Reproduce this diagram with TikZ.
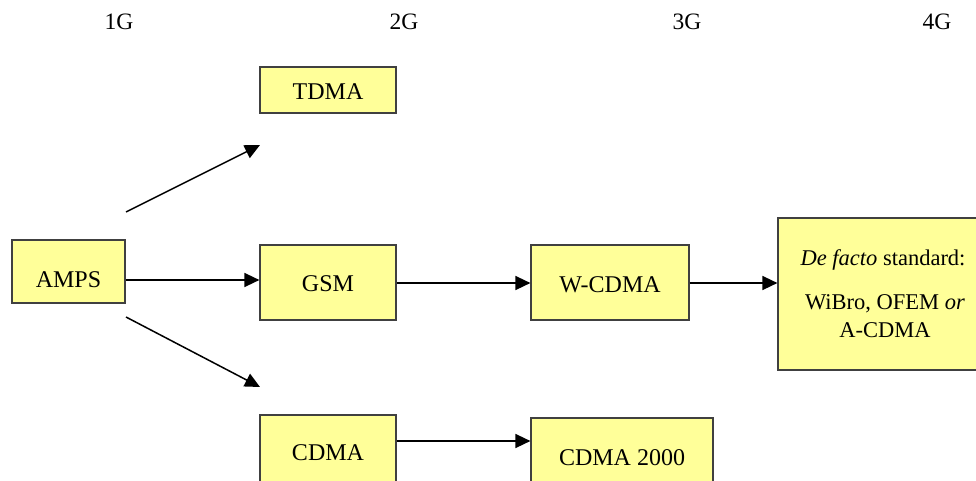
\documentclass[tikz,border=0pt]{standalone}
\usepackage{fontspec}
\setmainfont{Liberation Serif}
\usetikzlibrary{arrows.meta}
\definecolor{boxfill}{HTML}{FFFF99}
\definecolor{boxline}{HTML}{404040}
\tikzset{
  genbox/.style={draw=boxline, line width=1.2pt, fill=boxfill, inner sep=0pt},
  boxtext/.style={font=\fontsize{24}{28}\selectfont, inner sep=0pt, align=center},
  stdtext/.style={font=\fontsize{22.5}{28}\selectfont, inner sep=0pt, align=center},
  gentitle/.style={font=\fontsize{23.5}{26}\selectfont, inner sep=0pt},
  evo/.style={line width=1.5pt, -{Triangle[length=15pt, width=14pt]}}
}
\begin{document}
\begin{tikzpicture}[x=1pt, y=-1pt]
  \useasboundingbox (0,0) rectangle (976,481);
  \clip (0,0) rectangle (976,481);

  % generation headings
  \node[gentitle] (g1) at (119,22) {1G};
  \node[gentitle] (g2) at (404,22) {2G};
  \node[gentitle] (g3) at (687,22) {3G};
  \node[gentitle] (g4) at (937,22) {4G};

  % boxes
  \node[genbox, minimum width=113pt, minimum height=63pt] (amps) at (68.5,271.5) {};
  \node[genbox, minimum width=136pt, minimum height=46pt] (tdma) at (328,90) {};
  \node[genbox, minimum width=136pt, minimum height=75pt] (gsm) at (328,282.5) {};
  \node[genbox, minimum width=136pt, minimum height=80pt] (cdma) at (328,455) {};
  \node[genbox, minimum width=158pt, minimum height=75pt] (wcdma) at (610,282.5) {};
  \node[genbox, minimum width=182pt, minimum height=80pt] (cdmak) at (622,458) {};
  \node[genbox, minimum width=210pt, minimum height=152pt] (std) at (883,294) {};

  % box texts
  \node[boxtext] (tamps) at (68.5,280) {AMPS};
  \node[boxtext] (ttdma) at (328,92) {TDMA};
  \node[boxtext] (tgsm) at (328,284) {GSM};
  \node[boxtext] (tcdma) at (328,453) {CDMA};
  \node[boxtext] (twcdma) at (610,285) {W-CDMA};
  \node[boxtext] (tcdmak) at (622,458) {CDMA 2000};
  \node[stdtext] (tstd1) at (883,260) {\textit{De facto} standard:};
  \node[stdtext] (tstd2) at (885,316) {WiBro, OFEM \textit{or}\\A-CDMA};

  % free ends of the diagonal arrows
  \coordinate (upS) at (126,212);
  \coordinate (upE) at (260,145);
  \coordinate (dnS) at (126,317);
  \coordinate (dnE) at (260,387);

  % evolution arrows
  \draw[evo] (amps.east |- 0,280) -- (gsm.west |- 0,280);
  \draw[evo] (upS) -- (upE);
  \draw[evo] (dnS) -- (dnE);
  \draw[evo] (gsm.east |- 0,283) -- (wcdma.west |- 0,283);
  \draw[evo] (wcdma.east |- 0,283) -- (std.west |- 0,283);
  \draw[evo] (cdma.east |- 0,441) -- (cdmak.west |- 0,441);
\end{tikzpicture}
\end{document}
